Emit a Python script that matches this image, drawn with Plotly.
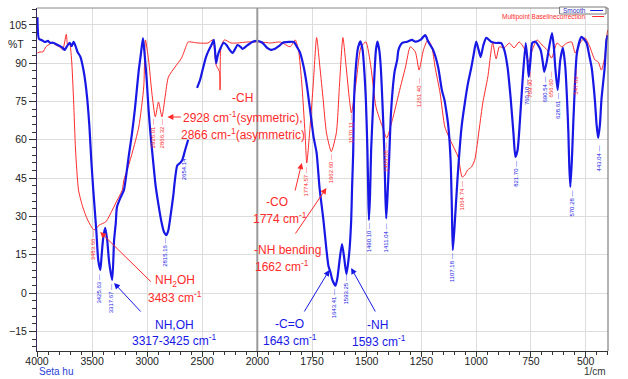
import plotly.graph_objects as go

# ---------------- data ----------------
smooth_wn = [3996, 3982, 3955, 3928, 3901, 3883, 3856, 3830, 3794, 3767, 3749, 3731, 3704, 3686, 3668, 3650,
             3632, 3605, 3578, 3561, 3543, 3525, 3507, 3489, 3462, 3444, 3425, 3413, 3399, 3381, 3363, 3345,
             3317, 3300, 3285, 3274, 3240, 3211, 3184, 3166, 3139, 3112, 3094, 3076, 3058, 3038, 3022, 3004,
             2987, 2969, 2942, 2924, 2897, 2870, 2847, 2825, 2807, 2789, 2762, 2753, 2726, 2699, 2682, 2655,
             2628, 2590, 2547, 2520, 2493, 2466, 2439, 2412, 2394, 2374, 2359, 2341, 2305, 2278, 2251, 2224,
             2179, 2152, 2134, 2090, 2045, 2000, 1977, 1955, 1937, 1919, 1901, 1883, 1856, 1833, 1819, 1806,
             1788, 1774, 1756, 1743, 1729, 1716, 1698, 1684, 1675, 1666, 1657, 1643, 1634, 1623, 1613, 1603,
             1593, 1580, 1571, 1567, 1562, 1558, 1549, 1540, 1529, 1519, 1510, 1504, 1497, 1493, 1490, 1485,
             1480, 1472, 1465, 1458, 1451, 1443, 1436, 1427, 1420, 1415, 1411, 1405, 1398, 1391, 1383, 1373,
             1361, 1355, 1338, 1315, 1293, 1278, 1255, 1233, 1219, 1197, 1174, 1157, 1145, 1134, 1127, 1117,
             1111, 1107, 1099, 1085, 1067, 1052, 1039, 1022, 1012, 1000, 989, 980, 967, 954, 932, 909,
             887, 872, 857, 842, 830, 821, 811, 804, 789, 774, 766, 760, 752, 744, 729, 706,
             696, 689, 678, 669, 654, 646, 639, 628, 616, 604, 593, 585, 579, 575, 570, 563,
             556, 548, 540, 519, 496, 484, 473, 458, 450, 443, 435, 428, 413, 405, 399]
smooth_t = [108.0, 99.5, 99.0, 98.3, 98.7, 98.0, 98.0, 97.5, 96.7, 96.0, 95.2, 96.4, 98.0, 96.7, 98.3, 96.7,
            94.4, 92.4, 87.3, 82.6, 75.6, 65.8, 52.0, 40.3, 24.7, 12.9, 9.0, 14.9, 21.5, 25.5, 20.8, 12.1,
            5.1, 20.8, 27.4, 33.7, 37.6, 40.3, 48.0, 54.0, 62.0, 71.7, 79.5, 87.3, 93.2, 99.8, 93.0, 83.4,
            71.7, 62.0, 50.0, 42.3, 34.5, 27.8, 23.9, 22.7, 24.7, 29.8, 38.4, 42.3, 50.0, 51.0, 52.0, 56.0,
            60.0, None, 80.3, 83.4, 88.0, 92.4, 95.2, 97.5, 99.1, 90.0, 93.0, 95.2, 98.0, 97.0, 95.2, 94.0,
            97.1, 96.4, 95.6, 97.0, 98.3, 98.7, 98.0, 96.0, 95.2, 95.6, 96.7, 98.0, 98.3, 98.3, 96.4, 94.4,
            88.5, 81.5, 69.7, 61.1, 54.8, 41.5, 28.6, 16.8, 10.6, 8.2, 5.1, 2.9, 5.9, 13.7, 19.2, 13.7,
            7.4, 15.7, 28.6, 41.5, 54.8, 75.6, 89.3, 96.0, 98.5, 95.2, 85.4, 75.6, 56.0, 38.4, 28.6, 38.4,
            56.0, 71.7, 85.4, 95.2, 98.4, 95.2, 88.5, 71.7, 56.0, 38.4, 29.2, 38.4, 52.1, 67.8, 78.3, 86.6,
            91.3, 95.2, 97.9, 98.4, 99.1, 98.4, 99.1, 101.0, 98.4, 95.2, 88.5, 79.5, 75.6, 69.7, 65.0, 52.1,
            32.5, 16.8, 25.9, 45.4, 65.0, 74.4, 81.5, 88.5, 93.2, 98.4, 95.2, 92.4, 97.1, 99.9, 98.4, 97.9,
            97.9, 95.2, 88.5, 75.6, 62.7, 53.3, 56.0, 62.7, 82.3, 97.9, 91.3, 84.6, 91.3, 97.9, 98.4, 95.2,
            90.5, 86.6, 90.5, 95.2, 101.8, 97.1, 88.5, 79.5, 91.3, 96.0, 88.5, 75.6, 62.7, 50.1, 41.6, 52.1,
            67.8, 83.4, 94.0, 100.3, 97.9, 93.2, 88.5, 75.6, 65.8, 60.7, 65.8, 75.6, 88.5, 99.1, 101.0]

baseline_wn = [3996, 3973, 3946, 3919, 3883, 3856, 3830, 3794, 3767, 3734, 3722, 3704, 3686, 3668, 3650, 3623,
               3585, 3540, 3483, 3435, 3375, 3316, 3271, 3226, 3211, 3181, 3136, 3076, 3031, 3016, 2987, 2957,
               2926, 2897, 2866, 2837, 2807, 2747, 2688, 2643, 2628, 2538, 2448, 2404, 2374, 2343, 2338, 2330,
               2299, 2239, 2179, 2090, 1985, 1940, 1895, 1850, 1827, 1812, 1797, 1782, 1774, 1759, 1744, 1729,
               1714, 1699, 1684, 1662, 1639, 1624, 1609, 1594, 1579, 1570, 1549, 1526, 1504, 1481, 1458, 1428,
               1409, 1383, 1353, 1323, 1301, 1278, 1261, 1241, 1221, 1203, 1188, 1165, 1143, 1112, 1083, 1064,
               1052, 1039, 1022, 1007, 985, 970, 947, 925, 909, 894, 872, 849, 827, 804, 782, 760,
               744, 722, 699, 676, 656, 631, 609, 586, 564, 548, 526, 503, 481, 458, 443, 428,
               413, 405, 399]
baseline_t = [94.0, 94.4, 94.4, 96.4, 97.5, 98.0, 97.1, 96.4, 95.2, 101.3, 97.1, 97.9, 91.3, 75.6, 56.0, 40.3,
              33.7, 28.6, 24.7, 26.6, 27.9, 32.5, 36.4, 40.3, 44.3, 48.2, 54.8, 65.0, 80.7, 99.1, 91.3, 78.3,
              69.0, 74.8, 69.0, 76.8, 84.6, 88.5, 92.0, 97.0, 98.3, 97.9, 97.9, 99.1, 89.3, 86.6, 79.5, 96.0,
              99.1, 97.9, 97.9, 98.3, 98.3, 97.9, 98.3, 96.4, 99.1, 95.2, 82.3, 62.7, 50.9, 65.0, 82.3, 100.0,
              88.5, 75.6, 62.7, 55.4, 62.7, 82.3, 100.0, 88.5, 75.6, 70.5, 82.3, 96.4, 98.3, 88.5, 72.9, 65.0,
              60.7, 67.8, 78.3, 88.5, 96.4, 94.4, 87.3, 95.2, 99.1, 96.4, 88.5, 78.3, 65.0, 58.7, 53.3, 45.4,
              46.2, 48.2, 49.3, 52.0, 65.0, 74.4, 84.6, 97.9, 91.7, 96.4, 96.0, 97.9, 96.0, 98.3, 96.0, 90.5,
              95.2, 99.1, 97.1, 95.2, 92.0, 97.9, 96.4, 97.9, 98.3, 94.0, 97.9, 99.9, 96.4, 91.3, 90.5, 87.3,
              92.4, 100.0, 103.0]

x_ticks_hi = [4000, 3500, 3000, 2500, 2000]
x_ticks_lo = [1750, 1500, 1250, 1000, 750, 500]
y_ticks = [-15, 0, 15, 30, 45, 60, 75, 90, 105]

peak_text = ["3425.63", "3317.67", "2815.16", "2654.14", "1643.41", "1593.25", "1490.10", "1411.04",
             "1107.18", "821.70", "760.10", "690.54", "628.61", "570.28", "443.04",
             "3483.66", "2926.01", "2866.32", "1774.57", "1662.60", "1570.11", "1409.08", "1261.40",
             "1064.74", "759.90", "656.60", "547.83"]
peak_wn = [3440, 3327, 2834, 2664, 1648, 1597, 1491, 1413, 1107, 819, 770, 688, 627, 564, 439,
           3489, 2944, 2870, 1779, 1666, 1571, 1410, 1263, 1063, 755, 658, 548]
peak_t = [1.6, -2.4, 15.9, 49.7, -4.3, 1.2, 21.7, 21.7, 10.0, 46.6, 78.5, 79.5, 73.2, 34.9, 52.7,
          18.4, 62.3, 62.3, 43.5, 48.6, 64.2, 53.1, 78.5, 38.0, 81.5, 81.7, 82.8]
peak_series = ["s"] * 15 + ["b"] * 12

BLUE = "#1717e6"
RED = "#ff2a2a"
FONT = "Liberation Sans, Arial, sans-serif"

# ---------------- layout geometry ----------------
W, H = 628, 379
ML, MR, MT, MB = 37, 13, 8, 28
PW, PH = W - ML - MR, H - MT - MB
SPLIT = 223 / PW


def px(xp):
    return (xp - ML) / PW


def py(yp):
    return (H - MB - yp) / PH


def split_series(wn, t):
    hi_w, hi_t, lo_w, lo_t = [], [], [], []
    n = len(wn)
    for i in range(n):
        w = wn[i]
        if w >= 2000 or (i > 0 and wn[i - 1] >= 2000):
            hi_w.append(w); hi_t.append(t[i])
        if w <= 2000 or (i + 1 < n and wn[i + 1] <= 2000):
            lo_w.append(w); lo_t.append(t[i])
    return hi_w, hi_t, lo_w, lo_t


fig = go.Figure()
for wn, t, col, lw, name in [(baseline_wn, baseline_t, RED, 1, "Multipoint Baselinecorrection"),
                             (smooth_wn, smooth_t, BLUE, 2.2, "Smooth")]:
    hw, ht, lw_, lt = split_series(wn, t)
    fig.add_trace(go.Scatter(x=hw, y=ht, mode="lines", line=dict(color=col, width=lw, shape="spline", smoothing=0.6),
                             connectgaps=False, xaxis="x", yaxis="y", name=name, showlegend=False, hoverinfo="skip"))
    fig.add_trace(go.Scatter(x=lw_, y=lt, mode="lines", line=dict(color=col, width=lw, shape="spline", smoothing=0.6),
                             connectgaps=False, xaxis="x2", yaxis="y", name=name, showlegend=False, hoverinfo="skip"))

GRID = "#dddddd"
AX = "#333333"
common_x = dict(showgrid=True, gridcolor=GRID, gridwidth=1, showline=True, linecolor=AX, linewidth=1,
                ticks="outside", ticklen=5, tickcolor=AX, zeroline=False, ticklabelstandoff=-5,
                tickfont=dict(family=FONT, size=10.5, color="#222"), anchor="y")
fig.update_layout(
    width=W, height=H, margin=dict(l=ML, r=MR, t=MT, b=MB),
    paper_bgcolor="white", plot_bgcolor="white", showlegend=False,
    xaxis=dict(domain=[0, SPLIT], range=[4000, 2000], tickmode="array", tickvals=x_ticks_hi,
               minor=dict(tickmode="linear", tick0=0, dtick=100, ticks="outside", ticklen=3, tickcolor=AX, showgrid=False),
               **common_x),
    xaxis2=dict(domain=[SPLIT, 1], range=[2000, 398], tickmode="array", tickvals=x_ticks_lo,
                minor=dict(tickmode="linear", tick0=0, dtick=50, ticks="outside", ticklen=3, tickcolor=AX, showgrid=False),
                **common_x),
    yaxis=dict(range=[-22.7, 111.6], tickmode="array", tickvals=y_ticks, showgrid=True, gridcolor=GRID,
               showline=True, linecolor="#3a2a5a", linewidth=1, ticks="outside", ticklen=7, tickcolor=AX,
               zeroline=False, tickfont=dict(family=FONT, size=10.5, color="#222"), anchor="x",
               minor=dict(tickmode="linear", tick0=0, dtick=3, ticks="outside", ticklen=4, tickcolor=AX, showgrid=False)),
)

shapes = []
# frame
shapes.append(dict(type="line", xref="paper", yref="paper", x0=0, x1=1, y0=1, y1=1, line=dict(color="#888", width=1)))
shapes.append(dict(type="line", xref="paper", yref="paper", x0=1, x1=1, y0=0, y1=1, line=dict(color="#666", width=1)))
# separator at 2000
shapes.append(dict(type="line", xref="paper", yref="paper", x0=SPLIT, x1=SPLIT, y0=0, y1=1, line=dict(color="#9a9a9a", width=2)))
# legend box + samples
shapes.append(dict(type="rect", xref="paper", yref="paper", x0=px(566), x1=px(613), y0=py(14), y1=py(7),
                   line=dict(color="#555", width=0.8), fillcolor="white"))
shapes.append(dict(type="line", xref="paper", yref="paper", x0=px(597), x1=px(610), y0=py(10.5), y1=py(10.5), line=dict(color=BLUE, width=1)))
shapes.append(dict(type="line", xref="paper", yref="paper", x0=px(599), x1=px(611), y0=py(16.5), y1=py(16.5), line=dict(color=RED, width=1)))
fig.update_layout(shapes=shapes)

ann = []


def txt(t, xp, yp, color, size=12, xanchor="center"):
    ann.append(dict(text=t, xref="paper", yref="paper", x=px(xp), y=py(yp), showarrow=False,
                    xanchor=xanchor, yanchor="middle", font=dict(family=FONT, size=size, color=color)))


def arrow(tail, head, color):
    ann.append(dict(text="", xref="paper", yref="paper", x=px(head[0]), y=py(head[1]),
                    ax=tail[0] - head[0], ay=tail[1] - head[1], axref="pixel", ayref="pixel",
                    showarrow=True, arrowhead=2, arrowsize=1.2, arrowwidth=1, arrowcolor=color))


txt("-CH", 245, 98, RED)
txt("2928 cm<sup>-1</sup>(symmetric),", 245, 117, RED)
txt("2866 cm-<sup>1</sup>(asymmetric)", 246, 134, RED)
txt("-CO", 280, 202, RED)
txt("1774 cm<sup>-1</sup>", 283, 218, RED)
txt("-NH bending", 291, 250, RED)
txt("1662 cm<sup>-1</sup>", 285, 266, RED)
txt("NH<sub>2</sub>OH", 177, 281, RED)
txt("3483 cm<sup>-1</sup>", 177, 297, RED)
txt("NH,OH", 176, 325, BLUE)
txt("3317-3425 cm<sup>-1</sup>", 176, 340, BLUE)
txt("-C=O", 293, 324, BLUE)
txt("1643 cm<sup>-1</sup>", 293, 340, BLUE)
txt("-NH", 382, 325, BLUE)
txt("1593 cm<sup>-1</sup>", 383, 341, BLUE)

arrow((184, 117), (169, 117), RED)
arrow((298, 192), (305, 163), RED)
arrow((298, 235), (330, 188), RED)
arrow((153, 283), (101, 232), RED)
arrow((143, 313), (115, 283), BLUE)
arrow((307, 313), (333, 270), BLUE)
arrow((380, 313), (355, 268), BLUE)

# axis captions and legend text
txt("%T", 26, 44, "#222", size=10.5, xanchor="right")
txt("Seta hu", 37, 371, "#2a3fd8", size=10, xanchor="left")
txt("1/cm", 615, 371, "#333", size=10, xanchor="right")
txt("Smooth", 581, 10.5, "#3030c0", size=6.5)
txt("Multipoint Baselinecorrection", 594, 17, RED, size=6.5, xanchor="right")

# peak labels
for t, w, v, s in zip(peak_text, peak_wn, peak_t, peak_series):
    ann.append(dict(text=t + " \u2014", xref="x" if w >= 2000 else "x2", yref="y", x=w, y=v,
                    showarrow=False, textangle=-90, xanchor="center", yanchor="middle",
                    font=dict(family=FONT, size=6, color=BLUE if s == "s" else RED)))

fig.update_layout(annotations=ann)
fig.write_html("out.html", config={"displayModeBar": False, "staticPlot": True},
               post_script="document.body.style.margin='0px';document.body.style.padding='0px';"
                           "document.body.style.overflow='hidden';")
